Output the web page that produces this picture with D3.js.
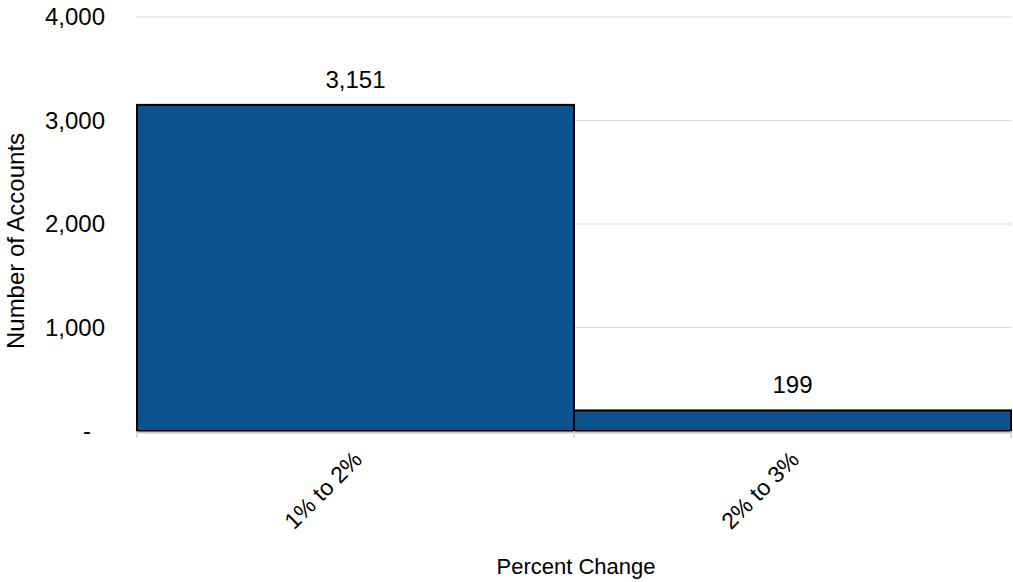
<!DOCTYPE html>
<html><head><meta charset="utf-8">
<script src="https://cdn.jsdelivr.net/npm/d3@7"></script>
<style>body{margin:0;background:#fff}svg{display:block}text{font-family:"Liberation Sans",Arial,sans-serif}</style>
</head><body>
<svg id="c" width="1013" height="582"></svg>
<script>
const categories = ["1% to 2%", "2% to 3%"];
const values = [3151, 199];
const yTicks = [0, 1000, 2000, 3000, 4000];
const yTickLabels = ["-", "1,000", "2,000", "3,000", "4,000"];
const xTitle = "Percent Change";
const yTitle = "Number of Accounts";

const svg = d3.select("#c");
const m = {l:137, r:2, t:17, b:151};
const W = 1013, H = 582;
const x = d3.scaleBand().domain(categories).range([m.l, W - m.r]).padding(0);
const y = d3.scaleLinear().domain([0, 4000]).range([H - m.b, m.t]);

// gridlines
svg.append("g").selectAll("line").data(yTicks.filter(d => d > 0)).join("line")
  .attr("x1", m.l).attr("x2", W - m.r)
  .attr("y1", d => y(d)).attr("y2", d => y(d))
  .attr("stroke", "#d9d9d9").attr("stroke-width", 1);

// bars
svg.append("g").selectAll("rect").data(values).join("rect")
  .attr("x", (d, i) => x(categories[i]))
  .attr("width", x.bandwidth())
  .attr("y", d => y(d))
  .attr("height", d => y(0) - y(d))
  .attr("fill", "#0b528e").attr("stroke", "#000").attr("stroke-width", 2);

// baseline axis
const xAxis = svg.append("g").attr("transform", `translate(0,${y(0) + 1})`)
  .call(d3.axisBottom(x).tickSize(0).tickFormat(""));
xAxis.select(".domain").attr("stroke", "#c8c8c8").attr("stroke-width", 2);
const tickPos = [m.l, ...categories.map(c => x(c) + x.bandwidth())];
svg.append("g").selectAll("line").data(tickPos).join("line")
  .attr("x1", d => d).attr("x2", d => d)
  .attr("y1", y(0)).attr("y2", y(0) + 7)
  .attr("stroke", "#d0d0d0").attr("stroke-width", 1.5);

// x labels rotated
svg.append("g").selectAll("text").data(categories).join("text")
  .attr("transform", d => `translate(${x(d) + x.bandwidth() / 2 + 8},${y(0) + 30}) rotate(-45)`)
  .attr("text-anchor", "end").attr("font-size", 23).attr("fill", "#000")
  .text(d => d);

// y axis labels
const yAxis = svg.append("g").attr("transform", `translate(${m.l - 29},0)`)
  .call(d3.axisLeft(y).tickValues(yTicks).tickSize(0).tickFormat((d, i) => yTickLabels[i]));
yAxis.select(".domain").remove();
yAxis.selectAll("text").attr("font-size", 24).attr("fill", "#000")
  .attr("font-family", "Liberation Sans, Arial, sans-serif")
  .attr("dx", d => d === 0 ? -14 : 0);

// value labels
svg.append("g").selectAll("text").data(values).join("text")
  .attr("x", (d, i) => x(categories[i]) + x.bandwidth() / 2)
  .attr("y", d => y(d) - 17)
  .attr("text-anchor", "middle").attr("font-size", 24).attr("fill", "#000")
  .text(d => d3.format(",")(d));

// titles
svg.append("text").attr("x", (m.l + W - m.r) / 2 + 2).attr("y", 574)
  .attr("text-anchor", "middle").attr("font-size", 22).text(xTitle);
svg.append("text").attr("transform", `translate(24,241) rotate(-90)`)
  .attr("text-anchor", "middle").attr("font-size", 24).text(yTitle);
</script>
</body></html>
